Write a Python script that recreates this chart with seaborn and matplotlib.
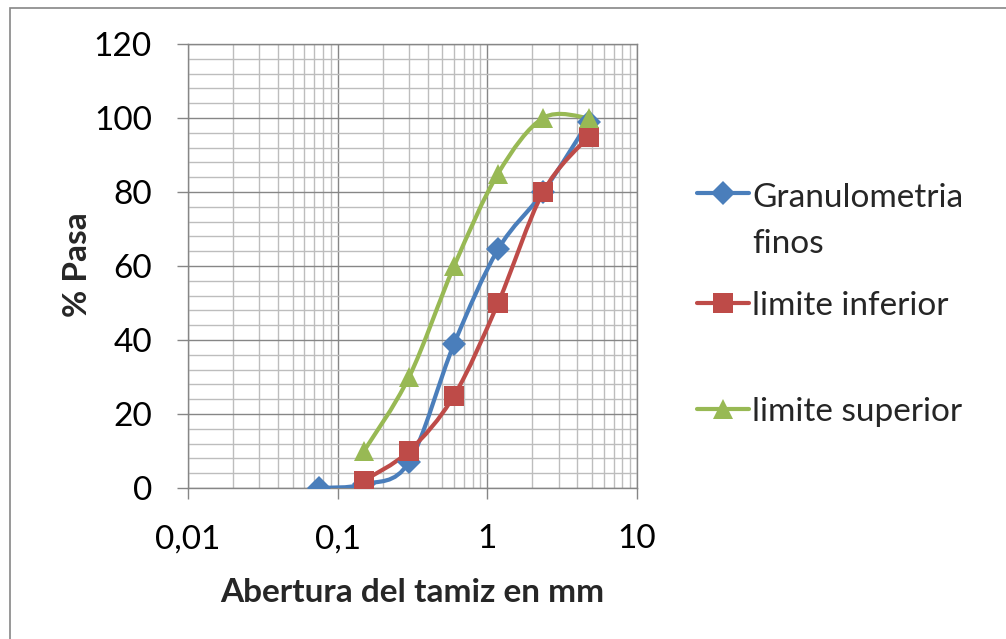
import numpy as np
import pandas as pd
import matplotlib
matplotlib.use("Agg")
import matplotlib.pyplot as plt
import seaborn as sns
from matplotlib.path import Path
from matplotlib.patches import PathPatch, Rectangle
from matplotlib.lines import Line2D
from matplotlib.legend_handler import HandlerLine2D
from matplotlib.ticker import FixedLocator, FuncFormatter, NullFormatter, MultipleLocator

# ---- data ----
abertura_finos = [0.075, 0.15, 0.3, 0.6, 1.18, 2.36, 4.75]
pasa_finos = [0, 1, 7, 39, 64.5, 80, 99]
abertura_lim = [0.15, 0.3, 0.6, 1.18, 2.36, 4.75]
lim_inferior = [2, 10, 25, 50, 80, 95]
lim_superior = [10, 30, 60, 85, 100, 100]
series_names = ["Granulometria\nfinos", "limite inferior", "limite superior"]
colors = ["#4A7EBB", "#BE4B48", "#98B954"]
markers = ["D", "s", "^"]
marker_sizes = [12, 14, 15]
x_tick_labels = ["0,01", "0,1", "1", "10"]

FS = 24

sns.set_theme(style="white")
plt.rcParams['font.family'] = ['Lato', 'DejaVu Sans']

df = pd.concat([
    pd.DataFrame({"x": abertura_finos, "y": pasa_finos, "serie": series_names[0]}),
    pd.DataFrame({"x": abertura_lim, "y": lim_inferior, "serie": series_names[1]}),
    pd.DataFrame({"x": abertura_lim, "y": lim_superior, "serie": series_names[2]}),
], ignore_index=True)

fig = plt.figure(figsize=(10.06, 6.39), dpi=100)
ax = fig.add_axes([188/1006, 1-488/639, (637-188)/1006, (488-44)/639])
ax.set_xscale("log")
ax.set_xlim(0.01, 10)
ax.set_ylim(0, 120)

# grid
ax.xaxis.set_major_locator(FixedLocator([0.01, 0.1, 1, 10]))
ax.xaxis.set_minor_locator(FixedLocator([m * d for d in [0.01, 0.1, 1] for m in range(2, 10)]))
ax.yaxis.set_major_locator(MultipleLocator(20))
ax.yaxis.set_minor_locator(MultipleLocator(4))
ax.grid(which="minor", color="#BDBDBD", lw=1.0, zorder=0)
ax.grid(which="major", color="#868686", lw=1.0, zorder=0)
ax.set_axisbelow(True)
ax.xaxis.set_major_formatter(FuncFormatter(lambda v, p: x_tick_labels[int(round(np.log10(v))) + 2]))
ax.xaxis.set_minor_formatter(NullFormatter())
ax.tick_params(axis="both", which="major", direction="out", length=8, width=1, color="#868686",
               labelsize=FS, pad=18, bottom=True, left=True, labelcolor="black")
ax.tick_params(axis="both", which="minor", length=0)
for s in ax.spines.values():
    s.set_color("#868686")
    s.set_linewidth(1)


def smooth_path(xs, ys):
    lx = np.log10(np.asarray(xs, float))
    yy = np.asarray(ys, float)
    P = np.column_stack([lx, yy])
    n = len(P)
    verts = [P[0]]
    codes = [Path.MOVETO]
    for i in range(n - 1):
        p0 = P[i - 1] if i > 0 else P[i]
        p1 = P[i]
        p2 = P[i + 1]
        p3 = P[i + 2] if i + 2 < n else P[i + 1]
        c1 = p1 + (p2 - p0) / 6.0
        c2 = p2 - (p3 - p1) / 6.0
        verts += [c1, c2, p2]
        codes += [Path.CURVE4] * 3
    v = np.array(verts)
    v[:, 0] = 10 ** v[:, 0]
    return Path(v, codes)


series_data = [(abertura_finos, pasa_finos), (abertura_lim, lim_inferior), (abertura_lim, lim_superior)]
for (xs, ys), c in zip(series_data, colors):
    ax.add_patch(PathPatch(smooth_path(xs, ys), facecolor="none", edgecolor=c, lw=3.0,
                           transform=ax.transData, zorder=3, capstyle="round", joinstyle="round"))

for name, c, m, ms in zip(series_names, colors, markers, marker_sizes):
    sub = df[df["serie"] == name]
    sns.lineplot(data=sub, x="x", y="y", ax=ax, color=c, marker=m, markersize=ms,
                 markeredgewidth=0, linewidth=0, legend=False, zorder=4, estimator=None, sort=False)

ax.set_xlim(0.01, 10)
ax.set_ylim(0, 120)
ax.set_xlabel("Abertura del tamiz en mm", fontsize=FS, fontweight="bold")
ax.set_ylabel("% Pasa", fontsize=FS, fontweight="bold")
ax.xaxis.set_label_coords((412-188)/449, (488-578)/444)
ax.yaxis.set_label_coords((92-188)/449, (488-265)/444)


class ShiftHandler(HandlerLine2D):
    def __init__(self, shift=0.0, **kw):
        super().__init__(**kw)
        self.shift = shift

    def create_artists(self, legend, orig_handle, xdescent, ydescent, width, height, fontsize, trans):
        arts = super().create_artists(legend, orig_handle, xdescent, ydescent, width, height, fontsize, trans)
        for a in arts:
            a.set_ydata(np.asarray(a.get_ydata(), float) + self.shift * fontsize)
        return arts


handles = [Line2D([], [], color=c, lw=3.0, marker=m, markersize=ms, markeredgewidth=0)
           for c, m, ms in zip(colors, markers, marker_sizes)]
leg_kw = dict(loc="upper left", bbox_transform=fig.transFigure, frameon=False, fontsize=FS,
              handlelength=1.55, handletextpad=0.1, borderaxespad=0, borderpad=0)
leg1 = ax.legend(handles[:2], series_names[:2], bbox_to_anchor=(697/1006, 1-183/639),
                 labelspacing=0.95, handler_map={handles[0]: ShiftHandler(shift=0.84)}, **leg_kw)
leg1.get_texts()[0].set_linespacing(1.68)
ax.add_artist(leg1)
leg2 = ax.legend(handles[2:], series_names[2:], bbox_to_anchor=(697/1006, 1-397/639), **leg_kw)

fig.patches.append(Rectangle((10/1006, -0.1), 1.2, 1 - 8/639 + 0.1, transform=fig.transFigure,
                             facecolor="none", edgecolor="#868686", lw=1.2))
fig.savefig("out.png", dpi=100, facecolor="white")
